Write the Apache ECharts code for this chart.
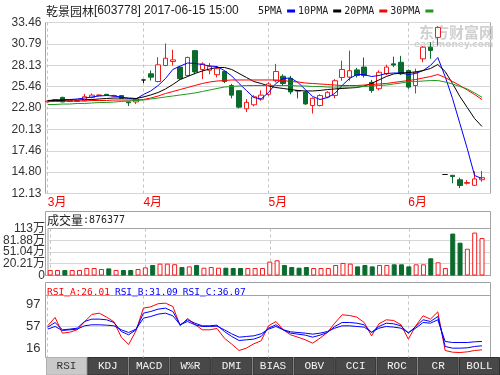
<!DOCTYPE html>
<html><head><meta charset="utf-8">
<script src="https://cdn.jsdelivr.net/npm/echarts@6/dist/echarts.min.js"></script>
<style>html,body{margin:0;padding:0;background:#fff}#c{width:500px;height:375px}</style>
</head><body><div id="c"></div>
<script>
// ---------------- data ----------------
const dates = [
 '2017-03-15','2017-03-16','2017-03-17','2017-03-20','2017-03-21','2017-03-22','2017-03-23','2017-03-24','2017-03-27','2017-03-28','2017-03-29','2017-03-30','2017-03-31',
 '2017-04-05','2017-04-06','2017-04-07','2017-04-10','2017-04-11','2017-04-12','2017-04-13','2017-04-14','2017-04-17','2017-04-18','2017-04-19','2017-04-20','2017-04-21','2017-04-24','2017-04-25','2017-04-26','2017-04-27',
 '2017-05-02','2017-05-03','2017-05-04','2017-05-05','2017-05-08','2017-05-09','2017-05-10','2017-05-11','2017-05-12','2017-05-15','2017-05-16','2017-05-17','2017-05-18','2017-05-19','2017-05-22','2017-05-23','2017-05-24','2017-05-25','2017-05-26',
 '2017-06-01','2017-06-02','2017-06-05','2017-06-06','2017-06-07','2017-06-08','2017-06-09','2017-06-12','2017-06-13','2017-06-14','2017-06-15'
];
const openP  = [23.55,23.78,24.12,23.60,23.62,23.70,24.10,24.35,24.50,24.28,24.35,23.55,23.55,26.29,27.06,26.10,28.10,28.60,27.90,26.85,29.95,27.60,27.50,26.95,27.35,25.60,24.95,22.70,23.20,23.90,24.50,26.20,26.75,26.50,24.98,24.80,23.10,23.10,24.15,24.35,26.60,26.65,27.55,27.90,26.00,25.20,27.06,28.30,28.50,27.47,25.60,28.93,30.38,31.60,14.50,14.40,13.84,13.40,13.15,13.85];
const closeP = [23.65,23.85,23.55,23.68,23.70,24.20,24.40,24.42,24.40,24.35,24.00,23.45,23.90,26.29,26.64,28.18,29.00,28.80,26.45,29.10,27.30,28.30,28.00,27.70,26.10,24.40,22.90,23.50,24.20,24.40,25.80,27.35,25.85,24.80,24.90,23.30,24.00,24.35,24.75,26.20,27.60,27.45,26.85,26.85,24.98,27.25,27.90,28.15,27.06,25.40,27.26,30.38,29.97,32.85,14.50,14.25,13.13,13.50,13.95,14.10];
const lowP   = [23.50,23.70,23.50,23.55,23.58,23.65,24.00,24.28,24.30,24.20,23.95,23.05,23.30,25.90,26.22,26.00,28.00,28.10,26.30,26.70,27.00,26.40,27.00,26.60,25.90,24.00,22.75,22.30,23.00,23.70,24.30,26.00,25.60,24.50,24.00,23.20,22.10,23.00,24.00,24.00,26.20,26.20,26.60,26.60,24.70,25.00,26.90,27.90,26.90,25.20,24.60,28.50,28.93,30.60,14.45,13.40,12.80,13.25,13.10,13.60];
const highP  = [23.72,23.90,24.20,23.75,23.76,24.55,24.60,24.50,24.55,24.45,24.40,23.60,23.95,26.29,27.47,29.13,30.85,30.05,28.05,29.20,30.00,28.50,28.40,28.00,27.45,25.80,25.00,23.90,24.40,25.00,26.00,28.30,27.00,26.80,25.00,24.95,24.10,24.50,24.90,26.40,28.70,29.95,27.80,29.10,26.30,27.50,28.20,29.20,29.30,27.60,27.70,30.50,31.00,33.00,14.55,14.40,14.10,13.80,14.90,14.95];
// volume, unit 万 (on the chart's own volume scale)
const volume = [3.7,3.7,3.7,3.7,3.7,9.0,9.0,6.4,8.0,3.7,3.7,3.7,6.4,10.7,17.0,20.5,20.5,19.0,11.7,13.3,17.0,9.8,11.7,9.8,9.8,9.0,9.0,9.0,9.0,9.0,25.8,29.3,17.0,11.7,9.8,11.7,9.0,9.0,9.0,17.0,22.3,20.5,13.3,17.0,13.3,17.0,17.0,18.7,18.7,13.3,18.7,18.7,34.6,24.0,9.0,99.4,75.5,59.6,102.0,87.64];
const ma5  = [23.73,23.79,23.85,23.85,23.92,24.04,24.17,24.29,24.35,24.29,24.17,23.98,23.92,24.48,24.92,25.60,26.47,27.60,28.03,28.41,28.35,28.22,28.03,27.97,27.47,26.79,25.85,24.98,24.10,23.92,24.73,25.85,26.47,26.54,25.98,25.10,24.23,23.85,24.10,24.60,25.60,26.47,26.97,26.97,26.72,26.85,27.10,27.16,27.16,26.97,27.10,27.47,28.10,29.09,26.72,23.98,20.86,17.74,14.37,14.00];
const ma10 = [23.73,23.73,23.73,23.79,23.79,23.85,23.85,23.92,23.98,24.04,24.04,24.04,23.98,24.17,24.42,24.73,25.17,25.73,26.35,26.72,27.10,27.41,27.66,27.85,27.85,27.60,27.10,26.60,26.10,25.85,25.54,25.35,25.23,25.10,24.98,24.92,24.92,24.98,25.10,25.17,25.23,25.29,25.35,25.54,25.85,26.29,26.72,27.04,27.16,27.22,27.29,27.47,27.72,28.22,27.35,25.85,24.23,22.86,21.48,20.49];
const ma20 = [23.61,23.61,23.61,23.67,23.67,23.67,23.73,23.73,23.73,23.79,23.79,23.79,23.79,23.85,24.04,24.29,24.60,24.85,25.10,25.35,25.60,25.85,26.04,26.16,26.22,26.29,26.29,26.29,26.29,26.29,26.29,26.29,26.22,26.10,26.04,25.91,25.85,25.79,25.73,25.66,25.60,25.60,25.60,25.66,25.73,25.79,25.85,25.98,26.10,26.22,26.35,26.54,26.72,26.97,26.60,26.10,25.60,25.04,24.48,23.85];
const ma30 = [23.23,23.23,23.29,23.29,23.36,23.36,23.42,23.48,23.48,23.54,23.61,23.67,23.73,23.79,23.92,24.04,24.17,24.29,24.42,24.54,24.67,24.85,25.04,25.23,25.41,25.48,25.54,25.60,25.60,25.60,25.60,25.60,25.60,25.60,25.54,25.54,25.48,25.48,25.41,25.41,25.41,25.39,25.41,25.48,25.54,25.60,25.66,25.79,25.91,26.04,26.10,26.16,26.22,26.22,26.04,25.79,25.48,25.17,24.67,24.14];
const rsiA = [58.3,73.7,44.8,46.6,51.0,65.7,79.2,81.6,74.3,65.7,37.4,23.9,49.1,90.8,93.3,99.0,100.0,93.9,58.3,71.8,60.8,51.0,51.0,53.4,35.6,24.6,12.9,17.2,25.2,30.7,58.3,66.3,51.0,41.7,37.4,32.5,26.4,35.6,46.0,63.2,78.6,77.3,74.3,64.4,39.9,62.0,69.4,68.1,60.2,33.8,58.3,76.7,70.6,84.1,12.9,9.8,9.2,10.4,12.9,14.1];
const rsiB = [55.9,64.4,51.0,52.2,54.0,66.3,70.6,70.6,69.4,64.4,47.9,41.7,51.0,81.6,84.7,89.0,90.8,84.7,60.2,69.4,63.2,58.3,58.3,59.5,47.9,38.7,31.3,32.5,33.8,38.7,54.0,60.2,51.0,44.8,43.0,41.1,37.4,41.1,46.0,57.1,64.4,64.4,63.2,60.2,46.0,57.1,63.2,62.0,58.3,44.8,57.1,69.4,66.3,75.5,20.3,17.2,17.2,17.8,20.3,21.5];
const rsiC = [52.2,57.1,49.7,51.0,52.2,58.3,60.2,60.2,59.5,58.3,51.0,46.0,52.2,72.4,75.5,79.8,81.6,76.7,60.2,66.3,60.2,57.1,57.1,57.7,51.0,43.6,37.4,38.7,39.9,43.6,52.2,57.1,51.0,47.3,46.0,44.8,43.0,44.8,47.9,54.0,58.3,58.3,57.1,55.9,46.6,54.0,57.1,55.9,54.0,46.0,54.0,64.4,63.2,69.4,29.5,27.6,27.6,27.6,28.9,29.5];
// tick labels
const priceTickLabels = ['12.13','14.80','17.46','20.13','22.80','25.46','28.13','30.79','33.46'];
const volTickValues = [-10.63, 20.21, 51.04, 81.88, 112.72];
const volTickLabels = ['0','20.21万','51.04万','81.88万','113万'];
const rsiTickValues = [16, 57, 97];
const tabNames = ['RSI','KDJ','MACD','W%R','DMI','BIAS','OBV','CCI','ROC','CR','BOLL'];
const stockName = '乾景园林';
const stockInfo = '[603778] 2017-06-15 15:00';
const volTitle = ['成交量', ':876377'];
const rsiTitle = ['RSI_A:26.01', 'RSI_B:31.09', 'RSI_C:36.07'];
const maNames = ['5PMA','10PMA','20PMA','30PMA'];

// ---------------- chart ----------------
const RED = '#f21c1c', GREEN = '#0b6b2d', BORDER = '#a3a3a3', GRIDC = '#d6d6d6';
const EN = 'Liberation Sans, Noto Sans CJK SC, sans-serif';
const MONO = 'DejaVu Sans Mono, Noto Sans CJK SC, monospace';
const CJK = 'Noto Sans CJK SC, sans-serif';

const monthStarts = [], monthNames = [];
dates.forEach((d, i) => {
  const m = d.slice(5, 7);
  if (i === 0 || m !== dates[i - 1].slice(5, 7)) { monthStarts.push(i); monthNames.push(parseInt(m, 10) + '月'); }
});
const priceTickValues = priceTickLabels.map(Number);
function lookup(vals, labels, v) {
  for (let k = 0; k < vals.length; k++) if (Math.abs(vals[k] - v) < 1e-6) return labels[k];
  return '';
}
const up = i => closeP[i] >= openP[i];
const candleData = dates.map((d, i) => [i, openP[i], closeP[i], lowP[i], highP[i]]);
const volData = volume.map((v, i) => ({
  value: [i, v],
  itemStyle: up(i) ? { color: '#fff', borderColor: RED, borderWidth: 1 } : { color: GREEN, borderColor: GREEN, borderWidth: 1 }
}));
const pts = arr => arr.map((v, i) => [i, v]);

const L = 45.5, R = 9.5, XMIN = -0.3, XMAX = 60.16;
function xAxisFor(gi, labels) {
  return {
    type: 'value', gridIndex: gi, min: XMIN, max: XMAX,
    axisLine: { show: false },
    axisTick: { show: false, customValues: monthStarts },
    axisLabel: labels ? {
      show: true, customValues: monthStarts, formatter: v => lookup(monthStarts, monthNames, v),
      color: '#ff0000', fontSize: 12, align: 'left', margin: 3, fontFamily: EN
    } : { show: false },
    splitLine: { show: true, lineStyle: { color: '#c4c4c4', type: [3, 3], width: 1 } }
  };
}
function lineSeries(name, data, color, xi, yi) {
  return {
    name, type: 'line', xAxisIndex: xi, yAxisIndex: yi, data: pts(data),
    showSymbol: false, symbol: 'none', silent: true, color: color,
    itemStyle: { color: color }, lineStyle: { color: color, width: 1 }, z: 3
  };
}
// the volume labels sit closer than their text height, so they are split over two
// coincident axes (same grid, same range) to keep every label visible
const volEven = volTickValues.filter((v, k) => k % 2 === 0);
const volOdd = volTickValues.filter((v, k) => k % 2 === 1);
function volAxis(values, withSplit) {
  return {
    type: 'value', gridIndex: 1, position: 'left', offset: 0,
    min: volTickValues[0], max: volTickValues[volTickValues.length - 1], startValue: volTickValues[0],
    axisLine: { show: false },
    axisTick: { show: false, customValues: withSplit ? volTickValues.slice(1, -1) : values },
    axisLabel: { customValues: values, formatter: v => lookup(volTickValues, volTickLabels, v),
      showMinLabel: true, showMaxLabel: true, color: '#333', fontSize: 12, margin: 3, fontFamily: EN },
    splitLine: { show: withSplit, lineStyle: { color: GRIDC, width: 1 } }
  };
}

const option = {
  animation: false,
  backgroundColor: '#fff',
  title: [
    { left: 46, top: 5, padding: 0,
      text: '{cn|' + stockName + '}{en|' + stockInfo + '}',
      textStyle: { fontWeight: 'normal', rich: {
        cn: { fontFamily: CJK, fontSize: 12, color: '#222', fontWeight: 'normal' },
        en: { fontFamily: EN, fontSize: 12, color: '#222', fontWeight: 'normal' } } } },
    { left: 47, top: 214, padding: 0,
      text: '{cn|' + volTitle[0] + '}{en|' + volTitle[1] + '}',
      textStyle: { fontWeight: 'normal', rich: {
        cn: { fontFamily: CJK, fontSize: 12, color: '#222', fontWeight: 'normal' },
        en: { fontFamily: MONO, fontSize: 10, color: '#222', fontWeight: 'normal' } } } },
    { left: 47, top: 284, padding: 0,
      text: '{a|' + rsiTitle[0] + '} {b|' + rsiTitle[1] + '} {b|' + rsiTitle[2] + '}',
      textStyle: { fontWeight: 'normal', rich: {
        a: { fontFamily: MONO, fontSize: 9.5, color: '#ff0000', fontWeight: 'normal' },
        b: { fontFamily: MONO, fontSize: 9.5, color: '#0000ff', fontWeight: 'normal' } } } }
  ],
  legend: {
    left: 258, top: 6, padding: 0, itemGap: 3, itemWidth: 8, itemHeight: 3, align: 'right',
    icon: 'rect', selectedMode: false, data: maNames,
    textStyle: { fontFamily: MONO, fontSize: 10, color: '#222' }
  },
  grid: [
    { left: L, right: R, top: 22.5, height: 171, show: true, borderColor: BORDER, borderWidth: 1, backgroundColor: 'transparent' },
    { left: L, right: R, top: 228.5, height: 47, show: true, borderColor: BORDER, borderWidth: 1, backgroundColor: 'transparent' },
    { left: L, right: R, top: 295.5, height: 62, show: true, borderColor: BORDER, borderWidth: 1, backgroundColor: 'transparent' },
    { left: L, right: R, top: 211.5, height: 64, show: true, borderColor: BORDER, borderWidth: 1, backgroundColor: 'transparent' },
    { left: L, right: R, top: 282.5, height: 75, show: true, borderColor: BORDER, borderWidth: 1, backgroundColor: 'transparent' }
  ],
  xAxis: [
    xAxisFor(0, true), xAxisFor(1, false), xAxisFor(2, false),
    { type: 'value', gridIndex: 3, show: false }, { type: 'value', gridIndex: 4, show: false }
  ],
  yAxis: [
    { type: 'value', gridIndex: 0, min: 12.13, max: 33.46,
      axisLine: { show: false }, axisTick: { show: false, customValues: priceTickValues },
      axisLabel: { customValues: priceTickValues, formatter: v => lookup(priceTickValues, priceTickLabels, v),
        showMinLabel: true, showMaxLabel: true, color: '#333', fontSize: 12, margin: 4, fontFamily: EN },
      splitLine: { show: true, lineStyle: { color: GRIDC, width: 1 } } },
    volAxis(volEven, true),
    { type: 'value', gridIndex: 2, min: 0, max: 114.1,
      axisLine: { show: false }, axisTick: { show: false, customValues: [57] },
      axisLabel: { customValues: rsiTickValues, color: '#333', fontSize: 13, margin: 5, fontFamily: EN },
      splitLine: { show: true, lineStyle: { color: GRIDC, width: 1 } } },
    { type: 'value', gridIndex: 3, show: false }, { type: 'value', gridIndex: 4, show: false },
    volAxis(volOdd, false)
  ],
  series: [
    { name: 'K', type: 'candlestick', xAxisIndex: 0, yAxisIndex: 0, data: candleData,
      encode: { x: 0, y: [1, 2, 3, 4] }, barWidth: 5, silent: true, z: 2,
      itemStyle: { color: '#fff', color0: GREEN, borderColor: RED, borderColor0: GREEN, borderColorDoji: '#111', borderWidth: 1 } },
    lineSeries(maNames[0], ma5, '#0000ff', 0, 0),
    lineSeries(maNames[1], ma10, '#000000', 0, 0),
    lineSeries(maNames[2], ma20, '#ff0000', 0, 0),
    lineSeries(maNames[3], ma30, '#1f9a1f', 0, 0),
    { name: 'VOL', type: 'bar', xAxisIndex: 1, yAxisIndex: 1, data: volData, barWidth: 5, silent: true },
    lineSeries('RSI_A', rsiA, '#ff0000', 2, 2),
    lineSeries('RSI_B', rsiB, '#0000ff', 2, 2),
    lineSeries('RSI_C', rsiC, '#0000ff', 2, 2)
  ],
  graphic: [
    { type: 'text', x: 419, y: 25, z: 0, silent: true,
      style: { text: '东方财富网', fill: '#d0d0d0', font: 'bold 15px "Noto Sans CJK SC"' } },
    { type: 'text', x: 414, y: 40, z: 0, silent: true,
      style: { text: 'eastmoney.com', fill: '#d0d0d0', font: 'bold 9px "DejaVu Sans"' } }
  ].concat(tabNames.map((t, i) => ({
    type: 'group', x: 46.5 + i * 41.3, y: 357.5, silent: true,
    children: [
      { type: 'rect', shape: { x: 0, y: 0, width: 40, height: 17.5 },
        style: { fill: i === 0 ? '#c9c9c9' : '#484848', stroke: i === 0 ? '#b0b0b0' : '#303030', lineWidth: 1 } },
      { type: 'text', style: { x: 20, y: 9, text: t, align: 'center', verticalAlign: 'middle',
        fill: i === 0 ? '#333' : '#f4f4f4', font: '11px "Liberation Mono"' } }
    ]
  })))
};
const chart = echarts.init(document.getElementById('c'), null, { renderer: 'canvas' });
chart.setOption(option);
</script>
</body></html>
